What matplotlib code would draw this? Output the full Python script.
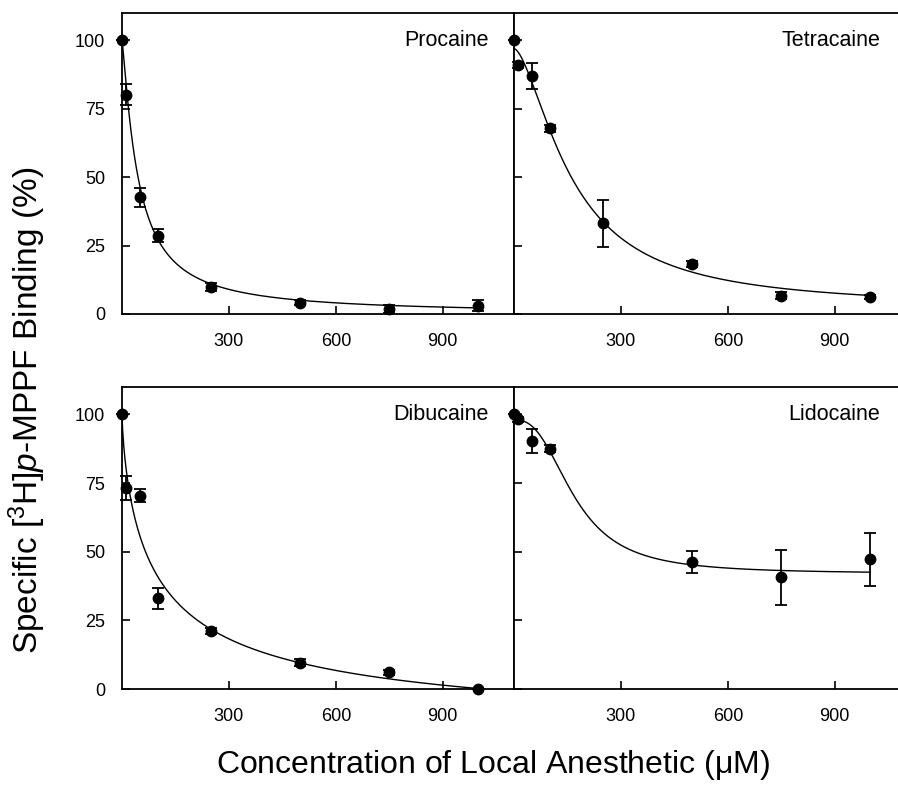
import numpy as np
import matplotlib
matplotlib.use("Agg")
import matplotlib.pyplot as plt

plt.rcParams['font.family'] = ['Liberation Sans', 'DejaVu Sans']
plt.rcParams['mathtext.fontset'] = 'custom'
plt.rcParams['mathtext.rm'] = 'Liberation Sans'
plt.rcParams['mathtext.it'] = 'Liberation Sans:italic'

conc = [0, 10, 50, 100, 250, 500, 750, 1000]

procaine = [100, 80.2, 42.6, 28.6, 9.8, 4.2, 1.7, 3.0]
procaine_err = [0, 3.8, 3.4, 2.4, 1.5, 1.0, 1.5, 2.0]

tetracaine = [100, 91.0, 87.0, 67.8, 33.1, 18.2, 6.7, 6.3]
tetracaine_err = [0, 1.0, 4.8, 1.2, 8.7, 1.2, 1.3, 0.8]

dibucaine = [100, 73.3, 70.4, 33.0, 21.2, 9.6, 6.1, 0]
dibucaine_err = [0, 4.4, 2.4, 3.7, 1.0, 1.3, 1.0, 0]

lidocaine = [100, 98.2, 90.2, 87.5, None, 46.1, 40.7, 47.3]
lidocaine_err = [0, 1.0, 4.4, 1.2, None, 4.0, 10.1, 9.7]

# fitted curve parameters: top, bottom, IC50, Hill slope
fit_procaine = [100, 0, 45, 1.22]
fit_tetracaine = [97, 2, 163, 1.62]
fit_dibucaine = [100, -18, 100, 0.74]
fit_lidocaine = [98, 42, 170, 2.6]

names = ["Procaine", "Tetracaine", "Dibucaine", "Lidocaine"]
W, H = 898, 790

fig = plt.figure(figsize=(W / 100, H / 100), dpi=100)

# axes boxes in pixels: left, top, right, bottom
boxes = [(122, 13, 514, 314), (514, 13, 898, 314),
         (122, 387, 514, 689), (514, 387, 898, 689)]
px_per_unit = 392 / 1100

series = [(procaine, procaine_err, fit_procaine),
          (tetracaine, tetracaine_err, fit_tetracaine),
          (dibucaine, dibucaine_err, fit_dibucaine),
          (lidocaine, lidocaine_err, fit_lidocaine)]

for i, (name, (vals, errs, fit)) in enumerate(zip(names, series)):
    l, t, r, b = boxes[i]
    ax = fig.add_axes([l / W, 1 - b / H, (r - l) / W, (b - t) / H])
    ax.set_xlim(0, (r - l) / px_per_unit)
    ax.set_ylim(0, 110)

    xs = [c for c, v in zip(conc, vals) if v is not None]
    ys = [v for v in vals if v is not None]
    es = [e for e, v in zip(errs, vals) if v is not None]

    top, bottom, ic50, slope = fit
    xc = np.linspace(0, 1000, 600)
    yc = bottom + (top - bottom) / (1 + (xc / ic50) ** slope)
    ax.plot(xc, yc, color='black', lw=1.0, zorder=2)

    ax.errorbar(xs, ys, yerr=es, fmt='o', color='black', ms=7.5,
                ecolor='black', elinewidth=1.3, capsize=4, capthick=1.3,
                clip_on=False, zorder=3)

    ax.text(1028, 100, name, ha='right', va='center', fontsize=15.5)

    ax.set_xticks([300, 600, 900])
    ax.set_yticks([0, 25, 50, 75, 100])
    ax.tick_params(direction='in', length=6, width=1.2, labelsize=13)
    ax.tick_params(axis='x', pad=14)
    ax.tick_params(axis='y', pad=12)
    if i % 2 == 1:
        ax.tick_params(labelleft=False)
        ax.spines['right'].set_visible(False)
    for s in ax.spines.values():
        s.set_linewidth(1.3)

fig.text(493 / W, 1 - 765 / H, r"Concentration of Local Anesthetic ($\mathrm{\mu}$M)",
         ha='center', va='center', fontsize=23)
fig.text(27 / W, 1 - 410 / H, r"Specific [$^{3}$H]$\it{p}$-MPPF Binding (%)",
         ha='center', va='center', rotation=90, fontsize=24)

fig.savefig("out.png", dpi=100)
